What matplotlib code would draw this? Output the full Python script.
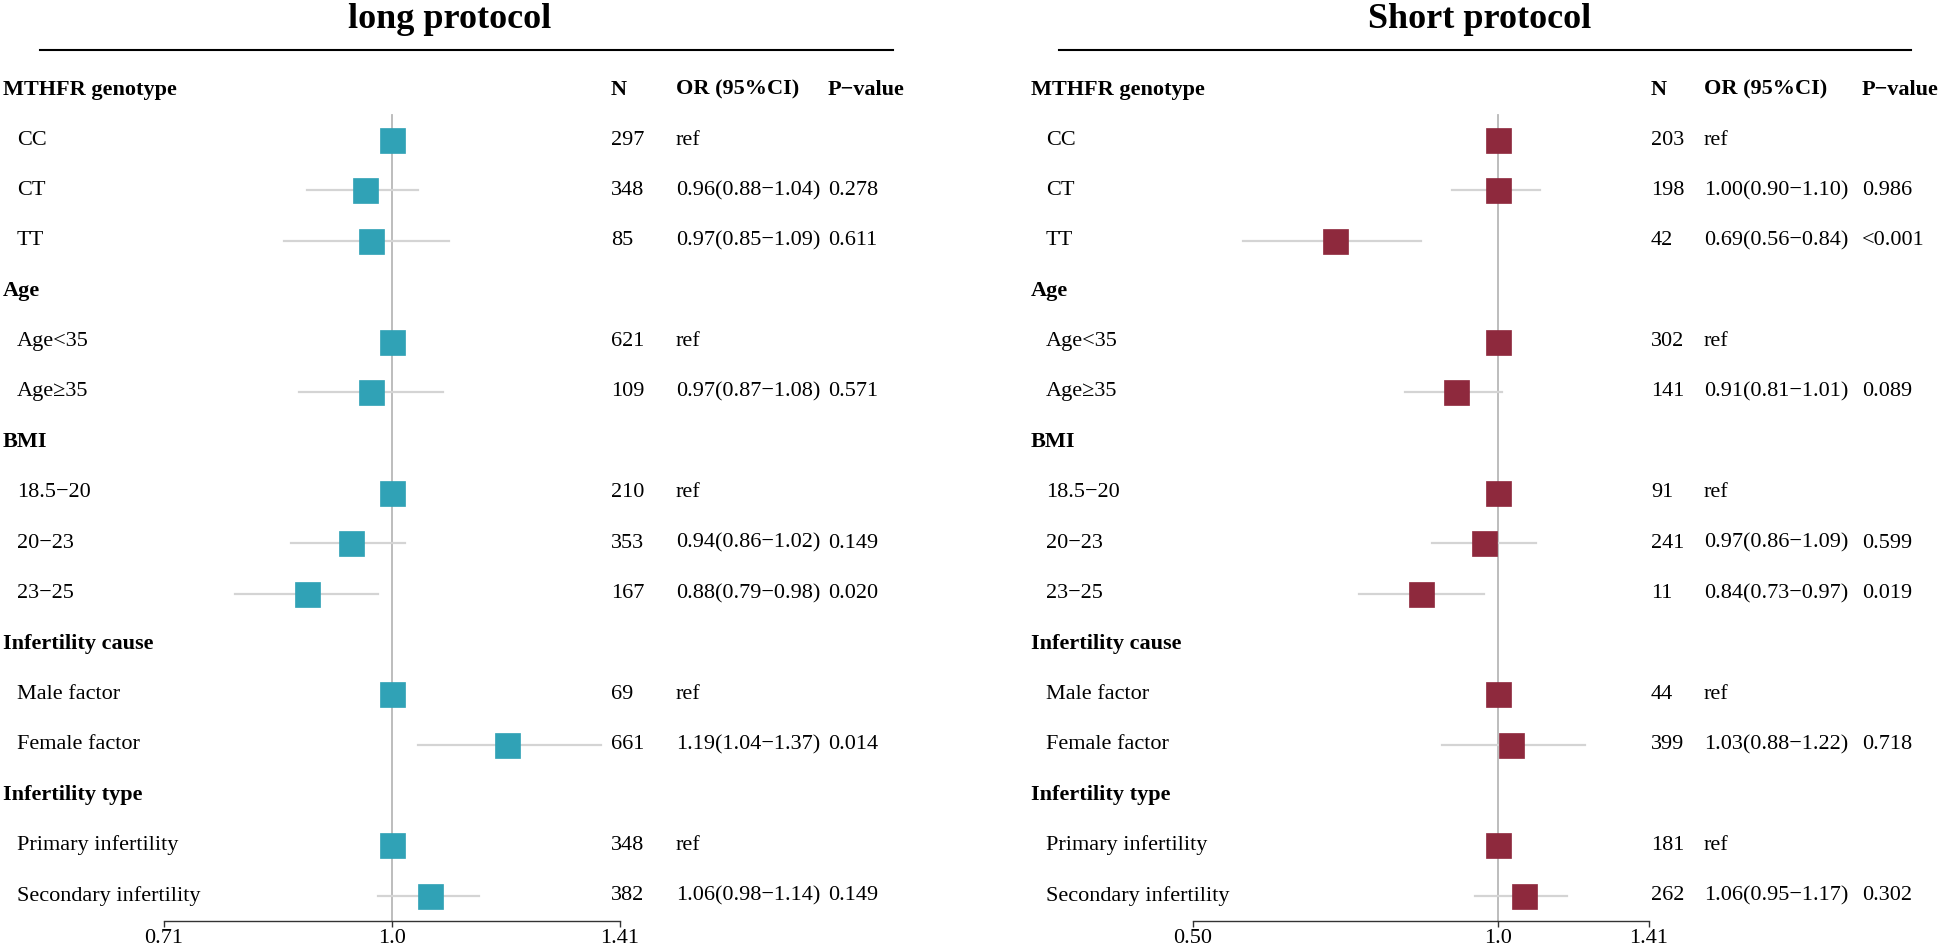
import matplotlib.pyplot as plt
import matplotlib.transforms as mtransforms
from matplotlib.lines import Line2D

plt.rcParams['font.family'] = ['Liberation Serif', 'DejaVu Serif']

groups = ['MTHFR genotype', 'Age', 'BMI', 'Infertility cause', 'Infertility type']
subgroups = [['CC', 'CT', 'TT'],
             ['Age<35', 'Age≥35'],
             ['18.5−20', '20−23', '23−25'],
             ['Male factor', 'Female factor'],
             ['Primary infertility', 'Secondary infertility']]

# long protocol
long_n = [297, 348, 85, 621, 109, 210, 353, 167, 69, 661, 348, 382]
long_or = [1.00, 0.96, 0.97, 1.00, 0.97, 1.00, 0.94, 0.88, 1.00, 1.19, 1.00, 1.06]
long_lo = [None, 0.88, 0.85, None, 0.87, None, 0.86, 0.79, None, 1.04, None, 0.98]
long_hi = [None, 1.04, 1.09, None, 1.08, None, 1.02, 0.98, None, 1.37, None, 1.14]
long_p = ['', '0.278', '0.611', '', '0.571', '', '0.149', '0.020', '', '0.014', '', '0.149']

# short protocol
short_n = [203, 198, 42, 302, 141, 91, 241, 11, 44, 399, 181, 262]
short_or = [1.00, 1.00, 0.69, 1.00, 0.91, 1.00, 0.97, 0.84, 1.00, 1.03, 1.00, 1.06]
short_lo = [None, 0.90, 0.56, None, 0.81, None, 0.86, 0.73, None, 0.88, None, 0.95]
short_hi = [None, 1.10, 0.84, None, 1.01, None, 1.09, 0.97, None, 1.22, None, 1.17]
short_p = ['', '0.986', '<0.001', '', '0.089', '', '0.599', '0.019', '', '0.718', '', '0.302']

W, H = 1944, 947
fig = plt.figure(figsize=(W / 100, H / 100), dpi=100)

row_top = 64.5     # px from top, row -0.5
row_bot = 921.0    # px from top, row 16.5 (axis line)
FS = 16


def fx(px):
    return px / W


def fy(px):
    return 1 - px / H


def panel(title, title_x, ax_l, ax_r, xlim, ticks, ticklabels, line_l, line_r,
          x_head, x_sub, x_n, x_or, x_p, color, n, orv, lo, hi, p):
    ax = fig.add_axes([fx(ax_l), fy(row_bot), fx(ax_r - ax_l), (row_bot - row_top) / H])
    ax.set_xscale('log')
    ax.set_xlim(*xlim)
    ax.set_ylim(16.5, -0.5)
    for s in ['top', 'right', 'left']:
        ax.spines[s].set_visible(False)
    ax.spines['bottom'].set_color('#333333')
    ax.spines['bottom'].set_linewidth(1.0)
    ax.set_yticks([])
    ax.minorticks_off()
    ax.set_xticks(ticks)
    ax.set_xticklabels(ticklabels)
    ax.tick_params(axis='x', length=4, width=1, color='#333333', labelsize=FS, pad=2)
    ax.patch.set_visible(False)

    # reference line at OR = 1
    ax.plot([1, 1], [0.5, 16.5], color='#b8b8b8', lw=1.3, zorder=1, clip_on=False)

    tr = mtransforms.blended_transform_factory(fig.transFigure, ax.transData)
    ax.text(fx(x_n), 0, 'N', transform=tr, fontsize=FS, fontweight='bold', va='center')
    ax.text(fx(x_or), 0, 'OR (95%CI)', transform=tr, fontsize=FS, fontweight='bold', va='center')
    ax.text(fx(x_p), 0, 'P−value', transform=tr, fontsize=FS, fontweight='bold', va='center')

    row = 0
    k = 0
    for g, subs in zip(groups, subgroups):
        ax.text(fx(x_head), row, g, transform=tr, fontsize=FS, fontweight='bold', va='center')
        row += 1
        for s in subs:
            ax.text(fx(x_sub), row, s, transform=tr, fontsize=FS, va='center')
            ax.text(fx(x_n), row, str(n[k]), transform=tr, fontsize=FS, va='center')
            if lo[k] is None:
                txt = 'ref'
            else:
                txt = f'{orv[k]:.2f}({lo[k]:.2f}−{hi[k]:.2f})'
                ax.plot([lo[k], hi[k]], [row, row], color='#d4d4d4', lw=1.6, zorder=2)
            ax.text(fx(x_or), row, txt, transform=tr, fontsize=FS, va='center')
            ax.text(fx(x_p), row, p[k], transform=tr, fontsize=FS, va='center')
            ax.plot([orv[k]], [row], marker='s', ms=18, color=color,
                    mec=color, mew=0.5, ls='none', zorder=3)
            row += 1
            k += 1

    fig.add_artist(Line2D([fx(line_l), fx(line_r)], [fy(50), fy(50)], color='black', lw=1.5))
    fig.text(fx(title_x), fy(20), title, fontsize=26, fontweight='bold',
             ha='center', va='center')
    return ax


panel('long protocol', 450, 164, 620, (0.71, 1.41), [0.71, 1.0, 1.41], ['0.71', '1.0', '1.41'],
      40, 893, 3, 17, 611, 676, 828, '#30a2b6',
      long_n, long_or, long_lo, long_hi, long_p)
panel('Short protocol', 1480, 1193, 1649, (0.50, 1.41), [0.50, 1.0, 1.41], ['0.50', '1.0', '1.41'],
      1059, 1911, 1031, 1046, 1651, 1704, 1862, '#8e293d',
      short_n, short_or, short_lo, short_hi, short_p)

fig.savefig('out.png', dpi=100)
